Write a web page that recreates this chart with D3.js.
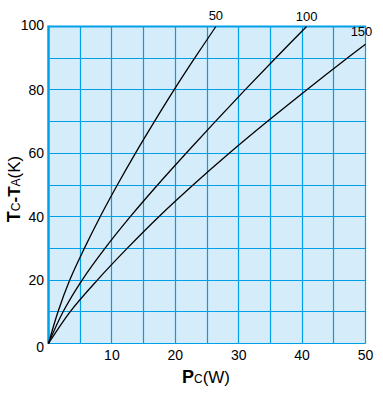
<!DOCTYPE html>
<html>
<head>
<meta charset="utf-8">
<script src="https://cdn.jsdelivr.net/npm/d3@7"></script>
<style>
  html, body { margin: 0; padding: 0; background: #fff; }
  svg { display: block; }
  text { font-family: "Liberation Sans", Arial, sans-serif; fill: #000; }
</style>
</head>
<body>
<div id="chart"></div>
<script>
// values: Pc (W) at each Tc-Ta step (K)
const tempSteps = [0, 10, 20, 30, 40, 50, 60, 70, 80, 90, 100];
const power50 = [0, 1.5, 3.35, 5.65, 8.15, 10.85, 13.7, 16.7, 19.8, 23.05, 26.4];
const power100 = [0, 2.3, 5.3, 8.9, 12.9, 17.2, 21.7, 26.3, 31.0, 35.8, 40.7];
const temp150 = [0, 10, 20, 30, 40, 50, 60, 70, 80, 90, 94.4];
const power150 = [0, 3.4, 7.7, 12.4, 17.4, 22.8, 28.5, 34.5, 40.7, 47.1, 50];
const curveNames = ["50", "100", "150"];
const xTicks = [10, 20, 30, 40, 50];
const yTicks = [0, 20, 40, 60, 80, 100];

const width = 383, height = 394;
const gridColor = "#00a0e6";
const fillColor = "#d5ecfa";

const x = d3.scaleLinear().domain([0, 50]).range([48.5, 365.5]);
const y = d3.scaleLinear().domain([0, 100]).range([343.5, 26.5]);
const crisp = (v) => Math.round(v - 0.5) + 0.5;

const svg = d3
  .select("#chart")
  .append("svg")
  .attr("width", width)
  .attr("height", height);

// plot background
svg
  .append("rect")
  .attr("x", x(0))
  .attr("y", y(100))
  .attr("width", x(50) - x(0))
  .attr("height", y(0) - y(100))
  .attr("fill", fillColor);

// grid every 5 W and 10 K
const grid = svg.append("g").attr("stroke", gridColor).attr("stroke-width", 1.2);
grid
  .selectAll("line.v")
  .data(d3.range(5, 51, 5))
  .join("line")
  .attr("class", "v")
  .attr("x1", (d) => crisp(x(d)))
  .attr("x2", (d) => crisp(x(d)))
  .attr("y1", y(0))
  .attr("y2", y(100));
grid
  .selectAll("line.h")
  .data(d3.range(0, 100, 10))
  .join("line")
  .attr("class", "h")
  .attr("x1", x(0))
  .attr("x2", x(50))
  .attr("y1", (d) => crisp(y(d)))
  .attr("y2", (d) => crisp(y(d)));

// heavier left and top border
svg
  .append("line")
  .attr("stroke", gridColor)
  .attr("stroke-width", 2.5)
  .attr("x1", x(0))
  .attr("x2", x(0))
  .attr("y1", y(0) + 0.5)
  .attr("y2", y(100) - 1);
svg
  .append("line")
  .attr("stroke", gridColor)
  .attr("stroke-width", 2)
  .attr("x1", x(0))
  .attr("x2", x(50) + 0.6)
  .attr("y1", y(100))
  .attr("y2", y(100));

// curves
const series = [
  { name: curveNames[0], pts: power50.map((p, i) => [p, tempSteps[i]]) },
  { name: curveNames[1], pts: power100.map((p, i) => [p, tempSteps[i]]) },
  { name: curveNames[2], pts: power150.map((p, i) => [p, temp150[i]]) },
];

const line = d3
  .line()
  .x((d) => x(d[0]))
  .y((d) => y(d[1]))
  .curve(d3.curveCatmullRom.alpha(0.5));

svg
  .append("g")
  .selectAll("path")
  .data(series)
  .join("path")
  .attr("fill", "none")
  .attr("stroke", "#000")
  .attr("stroke-width", 1.3)
  .attr("d", (d) => line(d.pts));

// curve labels at the end of each curve
const labelOffset = [[0, -7], [0, -6], [-4, -8]];
svg
  .append("g")
  .selectAll("text")
  .data(series)
  .join("text")
  .attr("font-size", 13)
  .attr("text-anchor", "middle")
  .attr("x", (d, i) => x(d.pts[d.pts.length - 1][0]) + labelOffset[i][0])
  .attr("y", (d, i) => y(d.pts[d.pts.length - 1][1]) + labelOffset[i][1])
  .text((d) => d.name);

// tick labels
svg
  .append("g")
  .selectAll("text")
  .data(xTicks)
  .join("text")
  .attr("font-size", 14)
  .attr("text-anchor", "middle")
  .attr("x", (d) => x(d))
  .attr("y", y(0) + 16)
  .text((d) => d);

svg
  .append("g")
  .selectAll("text")
  .data(yTicks)
  .join("text")
  .attr("font-size", 14)
  .attr("text-anchor", "end")
  .attr("x", 44)
  .attr("y", (d) => (d === 0 ? y(d) + 8 : d === 100 ? y(d) + 3 : y(d) + 5))
  .text((d) => d);

// axis titles
const xt = svg
  .append("text")
  .attr("x", 206)
  .attr("y", 383)
  .attr("text-anchor", "middle");
xt.append("tspan").attr("font-size", 18).attr("font-weight", "bold").text("P");
xt.append("tspan").attr("font-size", 12).text("C");
xt.append("tspan").attr("font-size", 17).text("(W)");

const yt = svg
  .append("text")
  .attr("transform", "translate(20,189) rotate(-90)")
  .attr("text-anchor", "middle");
yt.append("tspan").attr("font-size", 18).attr("font-weight", "bold").text("T");
yt.append("tspan").attr("font-size", 12).text("C");
yt.append("tspan").attr("font-size", 17).attr("font-weight", "bold").text("-T");
yt.append("tspan").attr("font-size", 12).text("A");
yt.append("tspan").attr("font-size", 17).text("(K)");
</script>
</body>
</html>
